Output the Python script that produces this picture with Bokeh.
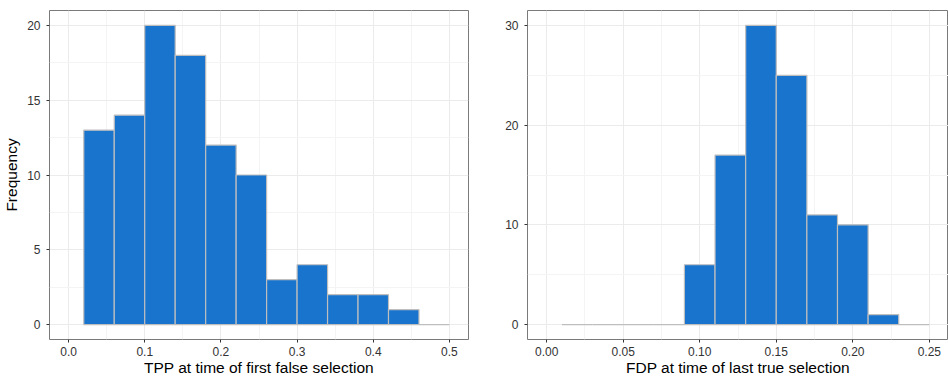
from bokeh.plotting import figure
from bokeh.layouts import row
from bokeh.models import Range1d, FixedTicker, PrintfTickFormatter, ColumnDataSource
from bokeh.embed import file_html
from bokeh.resources import INLINE

# Histogram of TPP at the first false selection (bin width 0.04)
tpp_bin_left = [0.02, 0.06, 0.10, 0.14, 0.18, 0.22, 0.26, 0.30, 0.34, 0.38, 0.42, 0.46]
tpp_counts = [13, 14, 20, 18, 12, 10, 3, 4, 2, 2, 1, 0]
tpp_bin_width = 0.04
tpp_x_ticks = [0.0, 0.1, 0.2, 0.3, 0.4, 0.5]
tpp_y_ticks = [0, 5, 10, 15, 20]

# Histogram of FDP at the last true selection (bin width 0.02)
fdp_bin_left = [0.01, 0.03, 0.05, 0.07, 0.09, 0.11, 0.13, 0.15, 0.17, 0.19, 0.21, 0.23]
fdp_counts = [0, 0, 0, 0, 6, 17, 30, 25, 11, 10, 1, 0]
fdp_bin_width = 0.02
fdp_x_ticks = [0.00, 0.05, 0.10, 0.15, 0.20, 0.25]
fdp_y_ticks = [0, 10, 20, 30]

FONT = "Liberation Sans"
FILL = "#1874CD"
EDGE = "#BEBEBE"


def midpoints(ticks):
    return [(a + b) / 2 for a, b in zip(ticks[:-1], ticks[1:])]


def hist_panel(lefts, counts, bw, xticks, yticks, xlabel, ylabel, x_range, y_range,
               min_left, min_right, xfmt):
    p = figure(width=474, height=378, output_backend="svg", toolbar_location=None,
               x_range=Range1d(*x_range), y_range=Range1d(*y_range),
               min_border_left=min_left, min_border_right=min_right,
               min_border_top=10, min_border_bottom=39)
    src = ColumnDataSource(dict(
        left=lefts,
        right=[l + bw for l in lefts],
        top=counts,
        bottom=[0] * len(counts),
    ))
    p.quad(left="left", right="right", top="top", bottom="bottom", source=src,
           fill_color=FILL, line_color=EDGE, line_width=1.2)

    p.xaxis.ticker = FixedTicker(ticks=xticks, minor_ticks=midpoints(xticks))
    p.yaxis.ticker = FixedTicker(ticks=yticks, minor_ticks=midpoints(yticks))
    p.xaxis.formatter = PrintfTickFormatter(format=xfmt)

    for ax in (p.xaxis, p.yaxis):
        ax.axis_line_color = None
        ax.minor_tick_line_color = None
        ax.major_tick_line_color = "#333333"
        ax.major_tick_in = 0
        ax.major_tick_out = 3
        ax.major_label_text_font = FONT
        ax.major_label_text_font_size = "12px"
        ax.major_label_text_color = "#333333"
        ax.axis_label_text_font = FONT
        ax.axis_label_text_font_size = "15.5px"
        ax.axis_label_text_font_style = "normal"
        ax.axis_label_text_color = "#000000"

    p.xaxis.axis_label = xlabel
    p.xaxis.major_label_standoff = 3
    p.xaxis.axis_label_standoff = 0
    if ylabel:
        p.yaxis.axis_label = ylabel
    p.yaxis.major_label_standoff = 5
    p.yaxis.axis_label_standoff = 4

    p.grid.grid_line_color = "#EBEBEB"
    p.grid.grid_line_width = 1
    p.grid.minor_grid_line_color = "#F4F4F4"
    p.grid.minor_grid_line_width = 1

    p.outline_line_color = "#7A7A7A"
    p.outline_line_width = 1
    p.background_fill_color = "white"
    p.border_fill_color = "white"
    return p


left = hist_panel(tpp_bin_left, tpp_counts, tpp_bin_width, tpp_x_ticks, tpp_y_ticks,
                  "TPP at time of first false selection", "Frequency",
                  (-0.025, 0.525), (-1, 21), 47, 6, "%.1f")
right = hist_panel(fdp_bin_left, fdp_counts, fdp_bin_width, fdp_x_ticks, fdp_y_ticks,
                   "FDP at time of last true selection", None,
                   (-0.0125, 0.2625), (-1.5, 31.5), 53, 0, "%.2f")

layout = row(left, right)
open("out.html", "w").write(file_html(layout, INLINE))
